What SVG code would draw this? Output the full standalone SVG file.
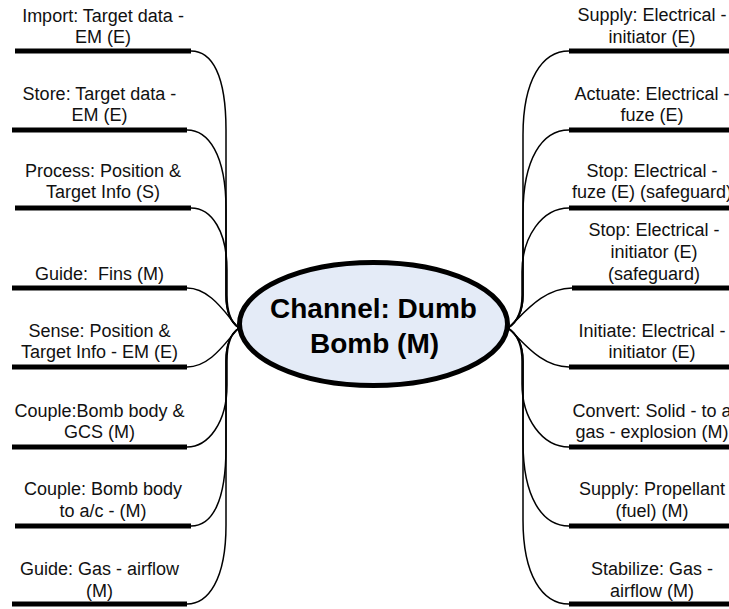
<svg xmlns="http://www.w3.org/2000/svg" width="729" height="609" viewBox="0 0 729 609">
<style>
.lbl{font-family:"Liberation Sans",Arial,sans-serif;font-size:18px;fill:#111;text-anchor:middle}
.bar{stroke:#000;stroke-width:5;fill:none}
.con{stroke:#000;stroke-width:1.5;fill:none}
.ttl{font-family:"Liberation Sans",Arial,sans-serif;font-size:28px;font-weight:bold;fill:#000;text-anchor:middle}
</style>
<rect width="729" height="609" fill="#fff"/>
<g id="connectors">
<path class="con" d="M191,51 C212,51 226,75 226,130 L226,295 C226,315 233,324 239,328"/>
<path class="con" d="M187,130 C208,130 226,154 226,209 L226,295 C226,315 233,324 239,328"/>
<path class="con" d="M191,208 C212,208 227,232 227,270 L227,295 C227,315 233,324 239,328"/>
<path class="con" d="M187,288 C212,288 228,318 239,328"/>
<path class="con" d="M187,367 C212,367 228,338 239,328"/>
<path class="con" d="M187,447 C208,447 227,423 227,385 L227,361 C227,341 233,332 239,328"/>
<path class="con" d="M191,526 C212,526 226,502 226,447 L226,361 C226,341 233,332 239,328"/>
<path class="con" d="M187,604 C208,604 226,580 226,525 L226,361 C226,341 233,332 239,328"/>
<path class="con" d="M569,51 C542,51 523,80 523,135 L523,295 C523,315 514,324 508,328"/>
<path class="con" d="M569,130 C542,130 523,159 523,214 L523,295 C523,315 514,324 508,328"/>
<path class="con" d="M569,208 C542,208 522,237 522,272 L522,295 C522,315 514,324 508,328"/>
<path class="con" d="M572,288 C542,288 522,316 508,328"/>
<path class="con" d="M569,367 C540,367 522,340 508,328"/>
<path class="con" d="M569,447 C542,447 522,418 522,384 L522,361 C522,341 514,332 508,328"/>
<path class="con" d="M569,526 C542,526 523,497 523,442 L523,361 C523,341 514,332 508,328"/>
<path class="con" d="M569,604 C542,604 523,575 523,520 L523,361 C523,341 514,332 508,328"/>
</g>
<g id="center">
<ellipse cx="373.5" cy="324" rx="134" ry="61.5" fill="#E4EBF7" stroke="#000" stroke-width="5"/>
<text class="ttl"><tspan x="373.5" y="318">Channel: Dumb</tspan><tspan x="374.5" y="353">Bomb (M)</tspan></text>
</g>
<g id="n-import"><line class="bar" x1="15" y1="51" x2="191" y2="51"/><text class="lbl"><tspan x="103" y="22">Import: Target data -</tspan><tspan x="103" y="43">EM (E)</tspan></text></g>
<g id="n-store"><line class="bar" x1="12" y1="130" x2="187" y2="130"/><text class="lbl"><tspan x="99.5" y="100">Store: Target data -</tspan><tspan x="99.5" y="121">EM (E)</tspan></text></g>
<g id="n-process"><line class="bar" x1="15" y1="208" x2="191" y2="208"/><text class="lbl"><tspan x="103" y="177">Process: Position &amp;</tspan><tspan x="103" y="198">Target Info (S)</tspan></text></g>
<g id="n-guide-fins"><line class="bar" x1="12" y1="288" x2="187" y2="288"/><text class="lbl" xml:space="preserve"><tspan x="99.5" y="280">Guide:  Fins (M)</tspan></text></g>
<g id="n-sense"><line class="bar" x1="12" y1="367" x2="187" y2="367"/><text class="lbl"><tspan x="99.5" y="337">Sense: Position &amp;</tspan><tspan x="99.5" y="358">Target Info - EM (E)</tspan></text></g>
<g id="n-couple-gcs"><line class="bar" x1="12" y1="447" x2="187" y2="447"/><text class="lbl"><tspan x="99.5" y="417">Couple:Bomb body &amp;</tspan><tspan x="99.5" y="438">GCS (M)</tspan></text></g>
<g id="n-couple-ac"><line class="bar" x1="15" y1="526" x2="191" y2="526"/><text class="lbl"><tspan x="103" y="495">Couple: Bomb body</tspan><tspan x="103" y="517">to a/c - (M)</tspan></text></g>
<g id="n-guide-gas"><line class="bar" x1="12" y1="604" x2="187" y2="604"/><text class="lbl"><tspan x="99.5" y="575">Guide: Gas - airflow</tspan><tspan x="99.5" y="597">(M)</tspan></text></g>
<g id="n-supply-elec"><line class="bar" x1="569" y1="51" x2="745" y2="51"/><text class="lbl"><tspan x="652" y="21">Supply: Electrical -</tspan><tspan x="652" y="43">initiator (E)</tspan></text></g>
<g id="n-actuate"><line class="bar" x1="569" y1="130" x2="745" y2="130"/><text class="lbl"><tspan x="652" y="100">Actuate: Electrical -</tspan><tspan x="652" y="121">fuze (E)</tspan></text></g>
<g id="n-stop-fuze"><line class="bar" x1="569" y1="208" x2="745" y2="208"/><text class="lbl"><tspan x="652" y="177">Stop: Electrical -</tspan><tspan x="652" y="198">fuze (E) (safeguard)</tspan></text></g>
<g id="n-stop-init"><line class="bar" x1="572" y1="288" x2="748" y2="288"/><text class="lbl"><tspan x="654" y="236">Stop: Electrical -</tspan><tspan x="654" y="258">initiator (E)</tspan><tspan x="654" y="280">(safeguard)</tspan></text></g>
<g id="n-initiate"><line class="bar" x1="569" y1="367" x2="745" y2="367"/><text class="lbl"><tspan x="652" y="337">Initiate: Electrical -</tspan><tspan x="652" y="358">initiator (E)</tspan></text></g>
<g id="n-convert"><line class="bar" x1="569" y1="447" x2="745" y2="447"/><text class="lbl"><tspan x="652" y="417">Convert: Solid - to a</tspan><tspan x="652" y="438">gas - explosion (M)</tspan></text></g>
<g id="n-supply-prop"><line class="bar" x1="569" y1="526" x2="745" y2="526"/><text class="lbl"><tspan x="652" y="495">Supply: Propellant</tspan><tspan x="652" y="517">(fuel) (M)</tspan></text></g>
<g id="n-stabilize"><line class="bar" x1="569" y1="604" x2="745" y2="604"/><text class="lbl"><tspan x="652" y="575">Stabilize: Gas -</tspan><tspan x="652" y="597">airflow (M)</tspan></text></g>
</svg>
